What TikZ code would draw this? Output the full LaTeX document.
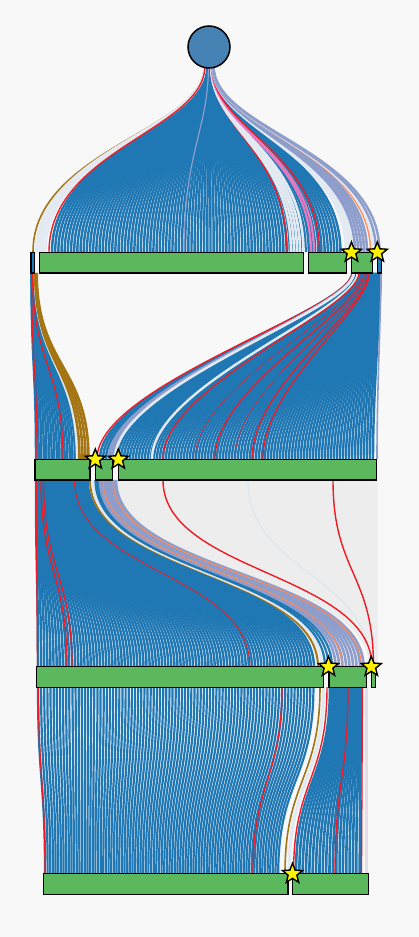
\documentclass[tikz,border=0pt]{standalone}
\usepackage{tikz}
\usetikzlibrary{shapes.geometric}
\usepackage{xcolor}
\definecolor{paper}   {HTML}{F8F8F8}
\definecolor{flowblue}{HTML}{1F77B4}
\definecolor{rootblue}{HTML}{4682B4}
\definecolor{pale}    {HTML}{E3E9F0}
\definecolor{lav}     {HTML}{8E9ECC}
\definecolor{ochre}   {HTML}{A47512}
\definecolor{alarm}   {HTML}{EE1C24}
\definecolor{peach}   {HTML}{FF8A55}
\definecolor{rose}    {HTML}{E27AC0}
\definecolor{haze}    {HTML}{EDEDED}
\definecolor{frost}   {HTML}{DCE6EE}
\definecolor{mist}    {HTML}{E4DDE8}
\definecolor{leaf}    {HTML}{5CB85C}

% one link between two levels, end points given by x only
\newcommand{\flow}[3][]{\draw[link,#1] (#2,\ytop) .. controls (#2,\cone) and (#3,\ctwo) .. (#3,\ybot);}

\begin{document}
\begin{tikzpicture}[x=1pt, y=-1pt,
    link/.style={flowblue, line width=2.45},
    flat/.style={link/.append style={line width=2.2}},
    bar/.style={fill=leaf, draw=black, line width=1.3},
    thinbar/.style={fill=flowblue, draw=black, line width=1.3},
    starmark/.style={star, star points=5, star point ratio=2.3, minimum size=21,
      inner sep=0, fill=yellow, draw=black, line width=1.4}]
  \useasboundingbox (0,0) rectangle (419,937);
  \fill[paper] (0,0) rectangle (419,937);

  % level 0 -> level 1
  \def\ytop{66}\def\cone{130}\def\ctwo{150}\def\ybot{252}
  \foreach \i in {0,...,91}{
    \pgfmathsetmacro\tgt{52+\i*3.17}
    \pgfmathsetmacro\src{204.5+(\tgt-33)*0.026}
    \flow{\src}{\tgt}
  }
  \foreach \tgt/\col/\wd in {33/ochre/1.6, 36.5/pale/2.6, 39.5/pale/2.6, 42.5/pale/2.6,
      45.5/pale/2.2, 49/alarm/1.4, 184/lav/1.2, 287/alarm/1.4, 291/pale/2.6,
      294/pale/2.6, 297/pale/2.6, 300/pale/2.6, 303.5/pale/2.6, 311/rose/2.2,
      314/rose/2.2, 319.5/alarm/1.4, 346/pale/2.6, 349/pale/2.6, 352/pale/2.6,
      355/lav/2.6, 358/lav/2.6, 361/lav/2.6, 364/lav/2.6, 367/lav/2.6,
      370.5/peach/1.4, 373/pale/2.4, 376/lav/2.4, 379.5/lav/2.4}{
    \pgfmathsetmacro\src{204.5+(\tgt-33)*0.026}
    \flow[color=\col, line width=\wd]{\src}{\tgt}
  }

  % level 1 -> level 2, left bundle
  \def\ytop{273}\def\cone{366}\def\ctwo{366}\def\ybot{459}
  \foreach \i in {0,...,15}{
    \pgfmathsetmacro\tgt{36+\i*2.6}
    \pgfmathsetmacro\src{31.5+\i*0.2}
    \flow{\src}{\tgt}
  }
  \foreach \src/\tgt/\col/\wd in {34.8/77/pale/2.4, 35.2/79.5/ochre/2.6,
      35.7/82.5/ochre/2.6, 36.2/85.5/ochre/2.6, 36.7/88.5/ochre/2.6,
      31.6/37/alarm/1.2, 32.6/63/alarm/1.2}{
    \flow[color=\col, line width=\wd]{\src}{\tgt}
  }

  % level 1 -> level 2, right bundle
  \def\cone{310}\def\ctwo{385}
  \foreach \i in {0,...,91}{
    \pgfmathsetmacro\tgt{100+\i*3.0}
    \pgfmathsetmacro\src{352+(\tgt-97)*0.1036}
    \flow{\src}{\tgt}
  }
  \foreach \tgt/\col/\wd in {97/alarm/1.4, 109/lav/2.4, 112/lav/2.4, 115/pale/2.6,
      152/pale/2.4, 163/alarm/1.3, 195/alarm/0.5, 215/alarm/1.3, 235/alarm/0.5,
      252/alarm/1.3, 263/alarm/1.3, 377/lav/1.6}{
    \pgfmathsetmacro\src{352+(\tgt-97)*0.1036}
    \flow[color=\col, line width=\wd]{\src}{\tgt}
  }

  % level 2 -> level 3, faint bundle
  \def\ytop{480}\def\cone{573}\def\ctwo{573}\def\ybot{667}
  \foreach \i in {0,...,86}{
    \pgfmathsetmacro\src{118+\i*3.0}
    \pgfmathsetmacro\tgt{371+\i*0.058}
    \flow[haze, line width=3.2]{\src}{\tgt}
  }
  \foreach \src/\tgt/\col/\wd in {248/370/frost/1.2, 163/372/alarm/1.4, 333/373.5/alarm/1.4}{
    \flow[color=\col, line width=\wd]{\src}{\tgt}
  }

  % level 2 -> level 3, main bundle
  \foreach \i in {0,...,89}{
    \pgfmathsetmacro\src{36+\i*0.58}
    \pgfmathsetmacro\tgt{38+\i*3.1}
    \flow{\src}{\tgt}
  }
  \foreach \src/\tgt/\col/\wd in {90/318/ochre/2, 92.7/321.7/pale/3,
      95.5/325/flowblue/2.2, 97/328.5/flowblue/2.2, 98.5/332/flowblue/2.2,
      100/335.5/lav/2.6, 102/339/lav/2.6, 104/342.5/lav/2.6, 106/346/lav/2.6,
      108/349.5/lav/2.6, 110/353/lav/2.6, 112/356.5/lav/2.6, 114/360/lav/2.6,
      116/363.5/lav/2.6, 103/342/peach/1, 113/361.5/peach/1,
      36.2/37.5/alarm/1.3, 41/67/alarm/1.3, 43.5/72/alarm/1.3, 74.5/250/alarm/0.9}{
    \flow[color=\col, line width=\wd]{\src}{\tgt}
  }

  % level 3 -> level 4
  \def\ytop{687}\def\cone{780}\def\ctwo{780}\def\ybot{874}
  \begin{scope}[flat]
  \foreach \i in {0,...,88}{
    \pgfmathsetmacro\src{38+\i*3.13}
    \pgfmathsetmacro\tgt{45+\i*2.65}
    \flow{\src}{\tgt}
  }
  \foreach \i in {0,...,19}{
    \pgfmathsetmacro\src{330+\i*1.63}
    \pgfmathsetmacro\tgt{296+\i*3.35}
    \flow[line width=2.6]{\src}{\tgt}
  }
  \foreach \src/\tgt/\col/\wd in {38.5/45/alarm/1.3, 282/253/alarm/1.3,
      320/285/ochre/1.6, 323.5/289/pale/3.2, 327/293.5/alarm/1.4,
      348/335/alarm/1.3, 362.5/361.5/alarm/1.3, 365.5/365.5/mist/2,
      367.5/367.5/mist/1.5}{
    \flow[color=\col, line width=\wd]{\src}{\tgt}
  }
  \end{scope}

  % root
  \node[circle, fill=rootblue, draw=black, line width=1.5, minimum size=42,
    inner sep=0] (root) at (209,47) {};

  % level bars
  \draw[thinbar] (31,252.5) rectangle (34.7,273);
  \draw[bar] (39.3,252.5) rectangle (303.7,273);
  \draw[bar] (308.3,252.5) rectangle (346.3,273);
  \draw[bar] (351.3,252.5) rectangle (372.7,273);
  \draw[thinbar] (377.3,252.5) rectangle (381.5,273);

  \draw[bar] (35,459.5) rectangle (90,480);
  \draw[bar] (95.7,459.5) rectangle (112.7,480);
  \draw[bar] (118.3,459.5) rectangle (376.7,480);

  \draw[bar] (36.7,666.8) rectangle (323.3,687.3);
  \draw[bar] (329,666.8) rectangle (366.7,687.3);
  \draw[bar] (371.3,666.8) rectangle (375.7,687.3);

  \draw[bar] (43.7,873.8) rectangle (288,894.3);
  \draw[bar] (292.7,873.8) rectangle (368.3,894.3);

  % stars
  \node[starmark] (s1a) at (351.5,252.5) {};
  \node[starmark] (s1b) at (377.3,252.5) {};
  \node[starmark] (s2a) at (95.3,459.5) {};
  \node[starmark] (s2b) at (118.3,459.5) {};
  \node[starmark] (s3a) at (328.5,666.8) {};
  \node[starmark] (s3b) at (371.3,666.8) {};
  \node[starmark] (s4a) at (292.5,873.8) {};
\end{tikzpicture}
\end{document}
